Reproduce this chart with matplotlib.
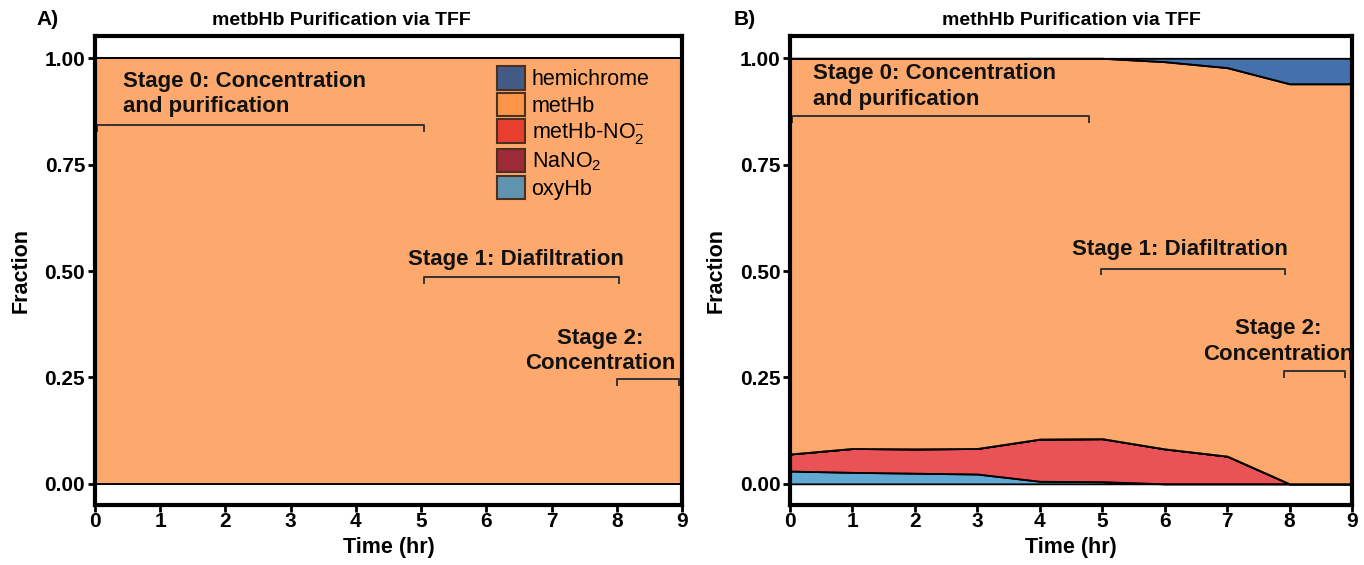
import matplotlib
matplotlib.use('Agg')
import matplotlib.pyplot as pyplot
import matplotlib.patches as patches
import matplotlib.colors as colors


pyplot.rcParams['font.family'] = ['Liberation Sans', 'DejaVu Sans']
pyplot.rcParams['mathtext.fontset'] = 'custom'
pyplot.rcParams['mathtext.rm'] = 'Liberation Sans'
pyplot.rcParams['mathtext.it'] = 'Liberation Sans:italic'
pyplot.rcParams['mathtext.bf'] = 'Liberation Sans:bold'

TIME_HR = [0, 1, 2, 3, 4, 5, 6, 7, 8, 9]

# panel A: everything is metHb
A_OXYHB = [0, 0, 0, 0, 0, 0, 0, 0, 0, 0]
A_METHB_NO2 = [0, 0, 0, 0, 0, 0, 0, 0, 0, 0]
A_NANO2 = [0, 0, 0, 0, 0, 0, 0, 0, 0, 0]
A_HEMICHROME = [0, 0, 0, 0, 0, 0, 0, 0, 0, 0]

# panel B
B_OXYHB = [0.030, 0.027, 0.025, 0.023, 0.006, 0.005, 0.0, 0.0, 0.0, 0.0]
B_METHB_NO2 = [0.040, 0.056, 0.057, 0.060, 0.099, 0.101, 0.082, 0.065, 0.0, 0.0]
B_NANO2 = [0, 0, 0, 0, 0, 0, 0, 0, 0, 0]
B_HEMICHROME = [0.0, 0.0, 0.0, 0.0, 0.0, 0.0, 0.008, 0.022, 0.060, 0.060]

# stacking order: oxyHb, metHb-NO2, NaNO2, metHb, hemichrome
COLOURS = ['#2b8cc4', '#e31a1c', '#800026', '#fd8d3c', '#054090']
ALPHA = 0.75

LEGEND_LABELS = ['hemichrome', 'metHb', 'metHb-NO$_2^{-}$', 'NaNO$_2$', 'oxyHb']
LEGEND_ORDER = [4, 3, 1, 2, 0]

TITLES = ['metbHb Purification via TFF', 'methHb Purification via TFF']
TITLE_X = [0.419, 0.5]
PANEL_LABELS = ['A)', 'B)']

# stage annotations: (text, text x, text top y, ha, bracket y, bracket start, bracket end)
STAGES_A = [
    ('Stage 0: Concentration\nand purification', 0.43, 0.971, 'left', 0.843, 0.03, 5.04),
    ('Stage 1: Diafiltration', 6.45, 0.552, 'center', 0.485, 5.05, 8.03),
    ('Stage 2:\nConcentration', 7.75, 0.367, 'center', 0.246, 8.0, 8.96),
]
STAGES_B = [
    ('Stage 0: Concentration\nand purification', 0.37, 0.988, 'left', 0.864, 0.03, 4.79),
    ('Stage 1: Diafiltration', 6.25, 0.575, 'center', 0.506, 4.98, 7.93),
    ('Stage 2:\nConcentration', 7.82, 0.390, 'center', 0.264, 7.91, 8.89),
]


def met_hb_rest(*layers):
    return [1 - sum(values) for values in zip(*layers)]


def configure_axes(axes, title, title_x, panel_label):
    axes.set_xlim(0, 9)
    axes.set_ylim(-0.05, 1.052)
    axes.set_xticks(TIME_HR)
    axes.set_yticks([0, 0.25, 0.5, 0.75, 1.0])
    axes.set_yticklabels(['0.00', '0.25', '0.50', '0.75', '1.00'])
    for spine in axes.spines.values():
        spine.set_linewidth(3)
    axes.tick_params(axis='both', direction='out', length=5, width=2,
                     labelsize=15, pad=2)
    axes.tick_params(axis='x', pad=0)
    for label in axes.get_xticklabels() + axes.get_yticklabels():
        label.set_fontweight('bold')
    axes.set_xlabel('Time (hr)', fontsize=15.5, fontweight='bold', labelpad=4)
    axes.set_ylabel('Fraction', fontsize=15.5, fontweight='bold', labelpad=9)
    axes.set_title(title, fontsize=14, fontweight='bold', x=title_x, pad=8)
    axes.text(-0.1, 1.015, panel_label, transform=axes.transAxes,
              fontsize=15, fontweight='bold', ha='left', va='bottom')


def add_stages(axes, stages):
    for text, text_x, text_y, ha, bracket_y, start, end in stages:
        axes.text(text_x, text_y, text, ha=ha, va='top', fontsize=16,
                  fontweight='bold', linespacing=1.3, color='#111111')
        drop = 0.014
        axes.plot([start, start, end, end],
                  [bracket_y - drop, bracket_y, bracket_y, bracket_y - drop],
                  color='#333333', linewidth=1.4)


def draw_panel(axes, oxy, methb_no2, nano2, hemichrome, index, stages):
    methb = met_hb_rest(oxy, methb_no2, nano2, hemichrome)
    face_colours = [colors.to_rgba(c, ALPHA) for c in COLOURS]
    axes.stackplot(TIME_HR, oxy, methb_no2, nano2, methb, hemichrome,
                   colors=face_colours, edgecolor='black', linewidth=1.3)
    configure_axes(axes, TITLES[index], TITLE_X[index], PANEL_LABELS[index])
    add_stages(axes, stages)


figure = pyplot.figure(figsize=(13.64, 5.65), dpi=100)
axes_a = figure.add_axes([0.0696, 0.106, 0.4304, 0.830])
axes_b = figure.add_axes([0.5792, 0.106, 0.4120, 0.830])

draw_panel(axes_a, A_OXYHB, A_METHB_NO2, A_NANO2, A_HEMICHROME, 0, STAGES_A)
draw_panel(axes_b, B_OXYHB, B_METHB_NO2, B_NANO2, B_HEMICHROME, 1, STAGES_B)

handles = [patches.Patch(facecolor=colors.to_rgba(COLOURS[i], ALPHA),
                         edgecolor='#4a3020', linewidth=1.5)
           for i in LEGEND_ORDER]
axes_a.legend(handles, LEGEND_LABELS, loc='upper left',
              bbox_to_anchor=(0.685, 0.936), frameon=False, fontsize=15.5,
              handlelength=1.3, handleheight=1.3, handletextpad=0.3,
              labelspacing=0.12, borderaxespad=0, borderpad=0)

figure.savefig('out.png', dpi=100)
